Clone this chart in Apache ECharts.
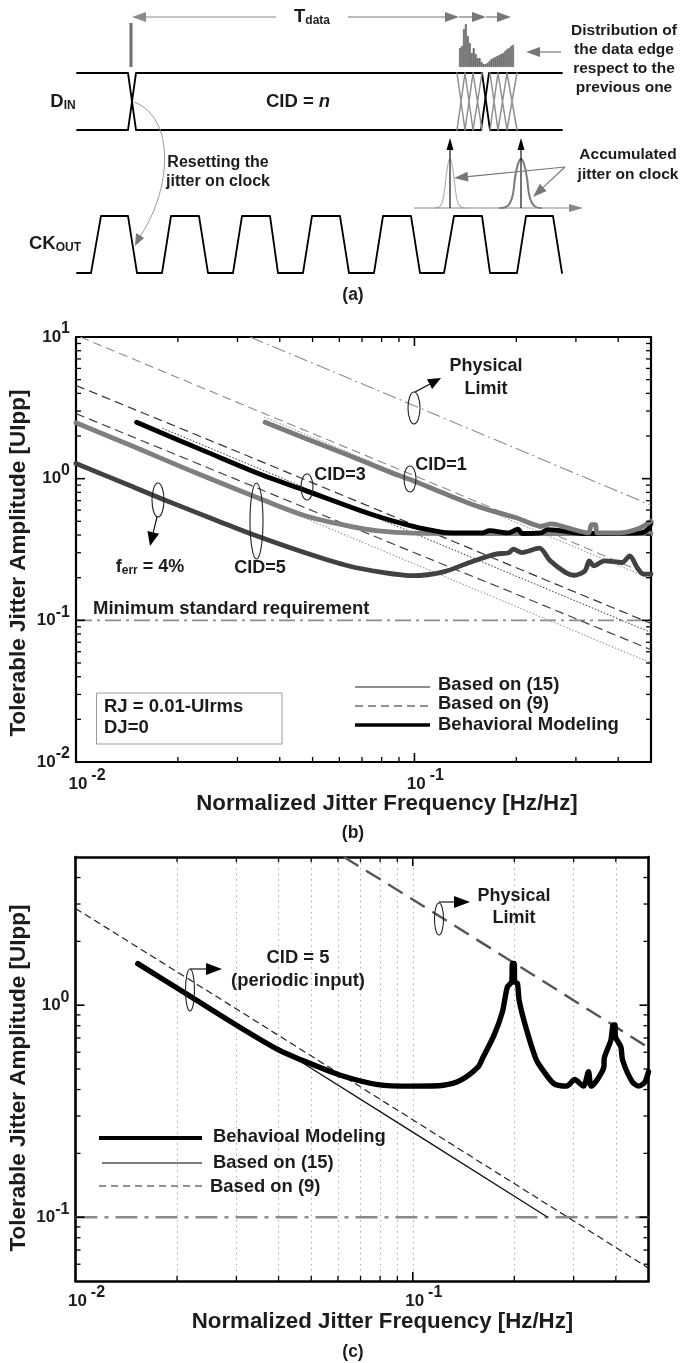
<!DOCTYPE html>
<html><head><meta charset="utf-8">
<style>html,body{margin:0;padding:0;background:#fff}#c{width:681px;height:1363px}</style>
<script src="https://cdn.jsdelivr.net/npm/echarts@6/dist/echarts.min.js"></script>
</head><body><div id="c"></div>
<script>
// ---------- panel (a): timing diagram, in diagram units ----------
const dinBottom = [[77,130],[128,130]];
const dinTopB = [[77,73],[128,73],[136,130],[481,130]];
const dinCrossA = [[128,130],[136,73],[482,73],[490,130],[562,130]];
const dinCrossB = [[481,130],[489,73],[562,73]];
const jitterFan = [[457,73],[465,130],null,[465,73],[457,130],null,[465,73],[473,130],null,[473,73],[465,130],null,[473,73],[482,130],null,[482,73],[473,130],null,[490,73],[498,130],null,[498,73],[490,130],null,[498,73],[507,130],null,[507,73],[498,130],null,[507,73],[517,130],null,[517,73],[507,130]];
const ckOut = [[77,273],[91,273],[101,216],[128,216],[137,273],[162,273],[171,216],[199,216],[208,273],[233,273],[242,216],[270,216],[278,273],[303,273],[312,216],[340,216],[349,273],[374,273],[383,216],[411,216],[420,273],[444,273],[454,216],[482,216],[490,273],[517,273],[526,216],[553,216],[562,273]];
const gaussA = [[435,208],[439,207],[442,203],[444,194],[446,178],[448,164],[450,159],[452,164],[454,178],[456,194],[458,203],[461,207],[465,208]];
const gaussB = [[500,208],[506,207],[510,203],[513,194],[515,178],[518,164],[521,159],[524,164],[527,178],[529,194],[532,203],[536,207],[541,208]];
const edgeHist = [19,21,38,43,31,24,14,19,13,9,9,5,3,3,4,6,8,9,10,11,12,13,14,16,18,19,21,22];

// ---------- panel (b): [frequency, amplitude] ----------
const bPhysical = [[0.0327,10],[0.1,3.27],[0.2,1.63],[0.5,0.65]];
const bDashed1 = [[0.0103,10],[0.03,3.45],[0.1,1.05],[0.2,0.525],[0.5,0.206]];
const bDotted1 = [[0.036,2.72],[0.1,0.98],[0.25,0.392],[0.5,0.196]];
const bDashed3 = [[0.01,4.55],[0.03,1.55],[0.1,0.47],[0.2,0.235],[0.5,0.095]];
const bDotted3 = [[0.018,2.27],[0.1,0.41],[0.25,0.164],[0.5,0.082]];
const bDashed5 = [[0.01,2.88],[0.03,0.98],[0.1,0.3],[0.2,0.153],[0.5,0.062]];
const bDotted5 = [[0.01,2.5],[0.05,0.5],[0.1,0.25],[0.25,0.1],[0.5,0.05]];
const bMinStd = [[0.01,0.1],[0.5,0.1]];
const bCid1 = [[0.0362,2.5],[0.0473,1.94],[0.0636,1.47],[0.0855,1.1],[0.1,0.96],[0.126,0.765],[0.159,0.621],[0.2008,0.528],[0.2364,0.461],[0.2535,0.479],[0.2915,0.441],[0.327,0.414],[0.3335,0.473],[0.343,0.473],[0.3465,0.414],[0.4036,0.414],[0.4645,0.449],[0.5,0.5]];
const bCid3 = [[0.0151,2.5],[0.0247,1.52],[0.0352,1.07],[0.0473,0.83],[0.0737,0.565],[0.0991,0.46],[0.1202,0.42],[0.1294,0.415],[0.159,0.414],[0.1667,0.43],[0.19,0.414],[0.2022,0.441],[0.208,0.41],[0.2364,0.414],[0.2477,0.437],[0.32,0.41],[0.4645,0.414],[0.49,0.44],[0.5,0.49]];
const bCid5 = [[0.01,2.48],[0.01448,1.72],[0.02256,1.1],[0.0341,0.74],[0.0473,0.55],[0.0636,0.4645],[0.0782,0.428],[0.0991,0.412],[0.13,0.41],[0.2,0.41],[0.3,0.41],[0.5,0.41]];
const bFerr = [[0.01,1.28],[0.01448,0.89],[0.01781,0.725],[0.02615,0.505],[0.0341,0.395],[0.0473,0.301],[0.0636,0.2427],[0.0805,0.218],[0.0991,0.2065],[0.1219,0.22],[0.1455,0.256],[0.174,0.293],[0.19,0.3],[0.1959,0.318],[0.2077,0.301],[0.2338,0.323],[0.2518,0.263],[0.2793,0.218],[0.2963,0.208],[0.3192,0.224],[0.3286,0.263],[0.3384,0.2427],[0.3645,0.263],[0.4103,0.256],[0.4325,0.2853],[0.455,0.236],[0.4753,0.212],[0.5,0.212]];

// ---------- panel (c): [frequency, amplitude] ----------
const cPhysical = [[0.0625,5],[0.1,3.15],[0.2,1.58],[0.4,0.79],[0.5,0.63]];
const cDashed = [[0.01,2.86],[0.03,0.96],[0.1,0.288],[0.3,0.096],[0.5,0.0575]];
const cSolid = [[0.04,0.63],[0.1,0.252],[0.2512,0.1]];
const cMinStd = [[0.01,0.1],[0.5,0.1]];
const cBehav = [[0.0153,1.57],[0.022,1.095],[0.0314,0.77],[0.04,0.615],[0.0463,0.555],[0.0604,0.47],[0.0789,0.422],[0.1,0.415],[0.1232,0.419],[0.1388,0.443],[0.1563,0.512],[0.1609,0.56],[0.1742,0.722],[0.1844,0.93],[0.1908,1.22],[0.1965,1.288],[0.1975,1.573],[0.2,1.573],[0.2005,1.288],[0.2043,1.27],[0.2067,1.056],[0.2163,0.79],[0.2316,0.56],[0.2393,0.512],[0.2618,0.427],[0.286,0.415],[0.302,0.446],[0.3206,0.415],[0.332,0.485],[0.338,0.415],[0.3687,0.512],[0.3695,0.56],[0.3868,0.684],[0.3929,0.807],[0.3975,0.807],[0.399,0.709],[0.414,0.636],[0.419,0.55],[0.4477,0.4346],[0.4677,0.415],[0.488,0.4346],[0.5,0.485]];

// ---------- tick values ----------
const xMajorTicks = [0.1];
const xMinorTicks = [0.02,0.03,0.04,0.05,0.06,0.07,0.08,0.09,0.2,0.3,0.4];
const xLabelTicks = [0.01,0.1];
const bYMajor = [0.1,1];
const bYMinor = [0.02,0.03,0.04,0.05,0.06,0.07,0.08,0.09,0.2,0.3,0.4,0.5,0.6,0.7,0.8,0.9,2,3,4,5,6,7,8,9];
const bYLabel = [0.01,0.1,1,10];
const cYMajor = [0.1,1];
const cYMinor = [0.06,0.07,0.08,0.09,0.2,0.3,0.4,0.5,0.6,0.7,0.8,0.9,2,3,4];
const expLabel = {0.01:'-2',0.1:'-1',1:'0',10:'1'};

const FONT = '"Liberation Sans", Arial, sans-serif';
const INK = '#1c1c1c';
const tickText = (pad)=>({
  b:{fontSize:17,fontWeight:'bold',fontFamily:FONT,color:INK,height:34,lineHeight:34},
  s:{fontSize:16,fontWeight:'bold',fontFamily:FONT,color:INK,height:18,lineHeight:18,verticalAlign:'top',padding:[0,0,0,pad]}
});
const fmt = v => { const k = Object.keys(expLabel).find(e => Math.abs(Math.log10(+e/v))<1e-6); return k ? '{b|10}{s|'+expLabel[k]+'}' : ''; };

const grids=[], xAxes=[], yAxes=[], series=[];
function plotAxes(rect, xr, yr, xLabels, xMajor, xMinor, yLabels, yMajor, yMinor, lw, dotted, marginX){
  const g = grids.length; grids.push(Object.assign({},rect));
  const base = (r,extra)=>Object.assign({type:'log',logBase:10,min:r[0],max:r[1],gridIndex:g,
    axisLine:{show:true,onZero:false,lineStyle:{color:'#000',width:lw}},axisTick:{show:false},axisLabel:{show:false},splitLine:{show:false}},extra);
  const xIdx = xAxes.length, yIdx = yAxes.length;
  xAxes.push(base(xr,{position:'bottom',axisTick:{show:false,customValues:xMajor.concat(xMinor)},
    axisLabel:{show:true,customValues:xLabels,formatter:fmt,rich:tickText(4),margin:marginX,padding:[0,0,0,22],hideOverlap:false},
    splitLine:dotted?{show:true,lineStyle:{color:'#aaa',type:[1.5,4],width:1}}:{show:false}}));
  xAxes.push(base(xr,{position:'top'}));
  yAxes.push(base(yr,{position:'left',axisLabel:{show:true,customValues:yLabels,formatter:fmt,rich:tickText(0),margin:6,hideOverlap:false}}));
  yAxes.push(base(yr,{position:'right'}));
  // tick marks on all four sides, placed through the axes' own scales: [x, y, isXTick, lengthPx]
  const rows=[];
  xMajor.forEach(v=>rows.push([v,yr[0],1,9])); xMinor.forEach(v=>rows.push([v,yr[0],1,5]));
  yMajor.forEach(v=>rows.push([xr[0],v,0,9])); yMinor.forEach(v=>rows.push([xr[0],v,0,5]));
  series.push({type:'custom',coordinateSystem:'cartesian2d',xAxisIndex:xIdx,yAxisIndex:yIdx,clip:false,silent:true,animation:false,zlevel:1,z:30,
    encode:{x:0,y:1},data:rows,
    renderItem:(params,api)=>{
      const isX=api.value(2), len=api.value(3), w=len>6?1.6:1.3, st={stroke:'#000',lineWidth:w};
      const a=api.coord([api.value(0),api.value(1)]);
      if(isX){ const b=api.coord([api.value(0),yr[1]]);
        return {type:'group',children:[
          {type:'line',shape:{x1:a[0],y1:a[1],x2:a[0],y2:a[1]-len},style:st},
          {type:'line',shape:{x1:b[0],y1:b[1],x2:b[0],y2:b[1]+len},style:st}]};
      }
      const b=api.coord([xr[1],api.value(1)]);
      return {type:'group',children:[
        {type:'line',shape:{x1:a[0],y1:a[1],x2:a[0]+len,y2:a[1]},style:st},
        {type:'line',shape:{x1:b[0],y1:b[1],x2:b[0]-len,y2:b[1]},style:st}]};
    }});
  return {x:xIdx,y:yIdx};
}

// diagram grid + histogram grid
grids.push({left:0,top:0,width:681,height:310});
xAxes.push({show:false,type:'value',min:0,max:681,gridIndex:0});
yAxes.push({show:false,type:'value',min:0,max:310,inverse:true,gridIndex:0});
grids.push({left:459,top:23,width:55,height:44});
xAxes.push({show:false,type:'category',gridIndex:1,data:edgeHist.map((_,i)=>i)});
yAxes.push({show:false,type:'value',min:0,max:44,gridIndex:1});

const B = plotAxes({left:76,top:337,width:575,height:425},[0.01,0.5],[0.01,10],xLabelTicks,xMajorTicks,xMinorTicks,bYLabel,bYMajor,bYMinor,2.2,false,5);
const C = plotAxes({left:75.5,top:857,width:573,height:424},[0.01,0.5],[0.05,5],xLabelTicks,xMajorTicks,xMinorTicks,cYMajor,cYMajor,cYMinor,2.6,true,3);

function L(ax,data,color,width,type,z,smooth){ series.push({type:'line',xAxisIndex:ax.x,yAxisIndex:ax.y,data,showSymbol:false,symbol:'none',silent:true,connectNulls:false,animation:false,z:z||2,smooth:smooth||false,lineStyle:{color,width,type:type||'solid',join:'round',cap:type?'butt':'round'}}); }
const D={x:0,y:0};
L(D,dinTopB,'#000',1.8); L(D,dinBottom,'#000',1.8); L(D,dinCrossA,'#000',1.8); L(D,dinCrossB,'#000',1.8);
L(D,jitterFan,'#8f8f8f',1.5,null,3);
L(D,ckOut,'#000',1.8);
L(D,gaussA,'#b5b5b5',1.2,null,2,0.4); L(D,gaussB,'#7a7a7a',2,null,2,0.4);
series.push({type:'bar',xAxisIndex:1,yAxisIndex:1,data:edgeHist,barCategoryGap:'0%',silent:true,animation:false,itemStyle:{color:'#6a6a6a',borderColor:'#6a6a6a',borderWidth:0.6}});

const DD=[9,5], DOT=[1.5,1.8];
L(B,bMinStd,'#8c8c8c',1.6,[16,5,3,5]);
L(B,bPhysical,'#8c8c8c',1.1,[14,4,2,4]);
L(B,bDashed1,'#8a8a8a',1.1,DD); L(B,bDotted1,'#8a8a8a',1,DOT);
L(B,bDashed3,'#333',1.2,DD); L(B,bDotted3,'#333',1,DOT);
L(B,bDashed5,'#444',1.2,DD); L(B,bDotted5,'#999',1.1,DOT);
L(B,bCid5,'#7f7f7f',4.8,null,3,0.35);
L(B,bCid3,'#000',4.8,null,4,0.3);
L(B,bCid1,'#7a7a7a',4.8,null,5,0.25);
L(B,bFerr,'#414141',4.8,null,6,0.3);

L(C,cMinStd,'#8a8a8a',2.6,[22,7,4,7]);
L(C,cPhysical,'#555',2.4,[17,9]);
L(C,cDashed,'#222',1.2,[7,4]);
L(C,cSolid,'#111',1.3);
L(C,cBehav,'#000',5.4,null,5,0.25);

// ---------- annotations ----------
const G=[];
function T(x,y,text,o){o=o||{};G.push({type:'text',z:20,x,y,style:{text,fontFamily:FONT,fontWeight:'bold',fontSize:o.size||18,fill:INK,align:o.align||'center',verticalAlign:'middle',rich:o.rich},rotation:o.rot||0});}
function Seg(x1,y1,x2,y2,c,w,dash){G.push({type:'line',z:15,shape:{x1,y1,x2,y2},style:{stroke:c,lineWidth:w||1,lineDash:dash}});}
function Arrow(x1,y1,x2,y2,c,w,len,hw){
  const a=Math.atan2(y2-y1,x2-x1),bx=x2-len*Math.cos(a),by=y2-len*Math.sin(a),nx=-Math.sin(a)*hw,ny=Math.cos(a)*hw;
  Seg(x1,y1,bx,by,c,w);
  G.push({type:'polygon',z:16,shape:{points:[[x2,y2],[bx+nx,by+ny],[bx-nx,by-ny]]},style:{fill:c}});
}
function Ell(cx,cy,rx,ry){G.push({type:'ellipse',z:16,shape:{cx,cy,rx,ry},style:{fill:null,stroke:'#222',lineWidth:1.1}});}

// (a)
G.push({type:'rect',z:5,shape:{x:129.5,y:23,width:3,height:44},style:{fill:'#6f6f6f'}});
Arrow(276,17,132,17,'#8a8a8a',1.2,14,5);
Arrow(348,17,459,17,'#777',1.2,14,5);Arrow(459,17,486,17,'#777',1.2,14,5);Arrow(486,17,511,17,'#777',1.2,14,5);
Arrow(561,52,526,52,'#777',1.2,14,5);
Arrow(414,208,583,208,'#888',1.2,14,4);
Arrow(450,208,450,138,'#000',1.1,12,3.5);Arrow(521,208,521,138,'#000',1.1,12,3.5);
Arrow(565,167,454,178,'#777',1.2,14,5);Arrow(565,167,533,197,'#777',1.2,14,5);
G.push({type:'bezierCurve',z:6,shape:{x1:134,y1:102,cpx1:176,cpy1:118,cpx2:172,cpy2:190,x2:139,y2:238},style:{stroke:'#9a9a9a',lineWidth:1,fill:null}});
G.push({type:'polygon',z:7,shape:{points:[[135,246],[136,233],[144,238]]},style:{fill:'#777'}});
const sub={a:{fontSize:18.5,fontWeight:'bold',fontFamily:FONT,color:INK},b:{fontSize:12,fontWeight:'bold',fontFamily:FONT,color:INK,padding:[8,0,0,0]}};
T(312,17,'{a|T}{b|data}',{rich:sub});
T(63,102,'{a|D}{b|IN}',{rich:sub});
T(55,244,'{a|CK}{b|OUT}',{rich:sub});
T(298,102,'{a|CID = }{i|n}',{rich:{a:sub.a,i:{fontSize:18.5,fontWeight:'bold',fontStyle:'italic',fontFamily:FONT,color:INK}}});
[['Distribution of',31],['the data edge',50],['respect to the',69],['previous one',88]].forEach(r=>T(624,r[1],r[0],{size:15.5}));
T(218,163,'Resetting the',{size:16});T(218,182,'jitter on clock',{size:16});
T(628,155,'Accumulated',{size:15.5});T(628,175,'jitter on clock',{size:15.5});
T(353,295,'(a)',{size:17.5});

// (b)
T(486,366,'Physical');T(486,389,'Limit');
Ell(414,408,6,16);Arrow(415,392,441,378,'#000',1.1,13,5.5);
T(441,465,'CID=1');Ell(410,479,6,13);
T(340,475,'CID=3');Ell(307,487,6,13);
T(260,568,'CID=5');Ell(256.5,521,6.5,38);
Ell(158,500,6,17);Arrow(157,517,150,546,'#000',1.1,14,6);
T(150,567,'{a|f}{b|err}{a| = 4%}',{rich:{a:{fontSize:18,fontWeight:'bold',fontFamily:FONT,color:INK},b:{fontSize:12,fontWeight:'bold',fontFamily:FONT,color:INK,padding:[7,0,0,0]}}});
T(93,609,'Minimum standard requirement',{align:'left',size:18.5});
G.push({type:'rect',z:8,shape:{x:96.5,y:693,width:185.5,height:51},style:{fill:null,stroke:'#9a9a9a',lineWidth:1}});
T(104,707,'RJ = 0.01-UIrms',{align:'left',size:18.5});T(104,728,'DJ=0',{align:'left',size:18.5});
Seg(355,687,430,687,'#222',1.1);Seg(355,706,430,706,'#222',1.1,[8,5]);Seg(355,725,430,725,'#000',3.6);
T(438,685,'Based on (15)',{align:'left',size:18.5});T(438,704,'Based on (9)',{align:'left',size:18.5});T(438,725,'Behavioral Modeling',{align:'left',size:18.5});
T(387,804,'Normalized Jitter Frequency [Hz/Hz]',{size:22.3});
T(19,563,'Tolerable Jitter Amplitude [UIpp]',{size:22.5,rot:Math.PI/2});
T(353,833,'(b)',{size:17.5});

// (c)
T(514,896,'Physical');T(514,918,'Limit');
Ell(439,919,4.5,16);Arrow(439,902,470,902,'#000',1.1,16,6);
T(298,958,'CID = 5',{size:18.4});T(298,981,'(periodic input)',{size:18.4});
Ell(190,990,4.5,21);Arrow(190,969,222,969,'#000',1.1,16,6);
Seg(99,1138,202,1138,'#000',4);Seg(102,1163,202,1163,'#555',1.6);Seg(99,1186,202,1186,'#222',1.1,[7,5]);
T(213,1137,'Behavioal Modeling',{align:'left',size:18.4});T(213,1163,'Based on (15)',{align:'left',size:18.4});T(210,1187,'Based on (9)',{align:'left',size:18.4});
T(382.5,1322,'Normalized Jitter Frequency [Hz/Hz]',{size:22.3});
T(19,1078,'Tolerable Jitter Amplitude [UIpp]',{size:22.5,rot:Math.PI/2});
T(353,1352,'(c)',{size:17.5});

const chart=echarts.init(document.getElementById('c'),null,{renderer:'canvas'});
chart.setOption({animation:false,backgroundColor:'#fff',grid:grids,xAxis:xAxes,yAxis:yAxes,series,graphic:{elements:G}});
</script></body></html>
